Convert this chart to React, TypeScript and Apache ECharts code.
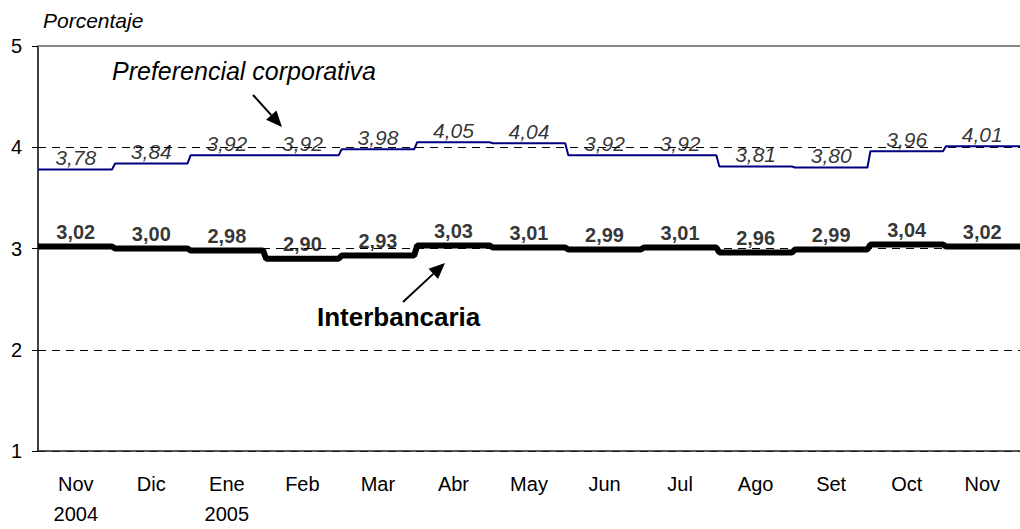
import React, { useEffect, useRef } from "react";
import * as echarts from "echarts";

const months = ["Nov\n2004", "Dic", "Ene\n2005", "Feb", "Mar", "Abr", "May", "Jun", "Jul", "Ago", "Set", "Oct", "Nov"];
const preferencial = [3.78, 3.84, 3.92, 3.92, 3.98, 4.05, 4.04, 3.92, 3.92, 3.81, 3.8, 3.96, 4.01];
const interbancaria = [3.02, 3.0, 2.98, 2.9, 2.93, 3.03, 3.01, 2.99, 3.01, 2.96, 2.99, 3.04, 3.02];
const yMin = 1;
const yMax = 5;
const yStep = 1;

const FONT = "'Liberation Sans', Arial, sans-serif";

function stepPoints(vals: number[]) {
  const pts: number[][] = [];
  const n = vals.length;
  vals.forEach((v, i) => {
    pts.push([i === 0 ? 0 : i + 0.02, v]);
    pts.push([i === n - 1 ? n : i + 0.98, v]);
  });
  return pts;
}

function midPoints(vals: number[]) {
  return vals.map((v, i) => [i + 0.5, v]);
}

const fmt = (p: any) => p.value[1].toFixed(2).replace(".", ",");

function arrow(x1: number, y1: number, x2: number, y2: number, head = 16, half = 7) {
  const dx = x2 - x1;
  const dy = y2 - y1;
  const len = Math.sqrt(dx * dx + dy * dy);
  const ux = dx / len;
  const uy = dy / len;
  const bx = x2 - ux * head;
  const by = y2 - uy * head;
  return [
    {
      type: "line",
      shape: { x1, y1, x2: bx, y2: by },
      style: { stroke: "#000", lineWidth: 2 },
      silent: true,
    },
    {
      type: "polygon",
      shape: {
        points: [
          [x2, y2],
          [bx - uy * half, by + ux * half],
          [bx + uy * half, by - ux * half],
        ],
      },
      style: { fill: "#000" },
      silent: true,
    },
  ];
}

export default function App() {
  const ref = useRef<HTMLDivElement>(null);
  useEffect(() => {
    if (!ref.current) return;
    const chart = echarts.init(ref.current, undefined, { renderer: "svg" });
    chart.setOption({
      animation: false,
      backgroundColor: "#fff",
      grid: { left: 38, right: -6, top: 46, bottom: 75, containLabel: false },
      xAxis: [
        {
          type: "category",
          data: months,
          boundaryGap: true,
          axisLine: { show: true, lineStyle: { color: "#222", width: 1.5 } },
          axisTick: { show: false },
          axisLabel: {
            interval: 0,
            margin: 18,
            color: "#000",
            fontFamily: FONT,
            fontSize: 20,
            lineHeight: 30,
            align: "center",
            verticalAlign: "top",
          },
          splitLine: { show: false },
        },
        {
          type: "value",
          min: 0,
          max: months.length,
          show: false,
          splitLine: { show: false },
        },
      ],
      yAxis: {
        type: "value",
        min: yMin,
        max: yMax,
        interval: yStep,
        axisLine: { show: true, lineStyle: { color: "#000", width: 1.5 } },
        axisTick: { show: true, inside: false, length: 6, lineStyle: { color: "#000" } },
        axisLabel: { margin: 16, color: "#000", fontFamily: FONT, fontSize: 20 },
        splitLine: { show: true, lineStyle: { color: "#000", type: [8, 6], width: 1 } },
      },
      series: [
        {
          name: "Preferencial corporativa",
          type: "line",
          xAxisIndex: 1,
          data: stepPoints(preferencial),
          symbol: "none",
          lineStyle: { color: "#000080", width: 2 },
          z: 3,
          markLine: {
            silent: true,
            symbol: ["none", "none"],
            label: { show: false },
            lineStyle: { color: "#888", width: 2, type: "solid" },
            data: [{ yAxis: yMax }],
          },
        },
        {
          name: "Interbancaria",
          type: "line",
          xAxisIndex: 1,
          data: stepPoints(interbancaria),
          symbol: "none",
          lineStyle: { color: "#000", width: 6 },
          z: 3,
        },
        {
          name: "Preferencial etiquetas",
          type: "scatter",
          xAxisIndex: 1,
          data: midPoints(preferencial),
          symbolSize: 1,
          itemStyle: { color: "rgba(0,0,0,0)" },
          label: {
            show: true,
            position: "top",
            distance: 1,
            formatter: fmt,
            color: "#000",
            fontFamily: FONT,
            fontStyle: "italic",
            fontSize: 21,
          },
          z: 4,
        },
        {
          name: "Interbancaria etiquetas",
          type: "scatter",
          xAxisIndex: 1,
          data: midPoints(interbancaria),
          symbolSize: 1,
          itemStyle: { color: "rgba(0,0,0,0)" },
          label: {
            show: true,
            position: "top",
            distance: 4,
            formatter: fmt,
            color: "#000",
            fontFamily: FONT,
            fontWeight: "bold",
            fontSize: 20,
          },
          z: 4,
        },
      ],
      graphic: [
        {
          type: "text",
          x: 43,
          y: 20,
          style: {
            text: "Porcentaje",
            font: `italic 21px ${FONT}`,
            fill: "#000",
            align: "left",
            verticalAlign: "middle",
          },
        },
        {
          type: "text",
          x: 112,
          y: 71,
          style: {
            text: "Preferencial corporativa",
            font: `italic 25px ${FONT}`,
            fill: "#000",
            align: "left",
            verticalAlign: "middle",
          },
        },
        {
          type: "text",
          x: 317,
          y: 317,
          style: {
            text: "Interbancaria",
            font: `bold 26px ${FONT}`,
            fill: "#000",
            align: "left",
            verticalAlign: "middle",
          },
        },
        ...arrow(253, 95, 282, 127),
        ...arrow(403, 302, 445, 263),
      ],
    });
    return () => chart.dispose();
  }, []);
  return (
    <div
      ref={ref}
      style={{ position: "fixed", left: 0, top: 0, width: 1020, height: 529, background: "#fff" }}
    />
  );
}
